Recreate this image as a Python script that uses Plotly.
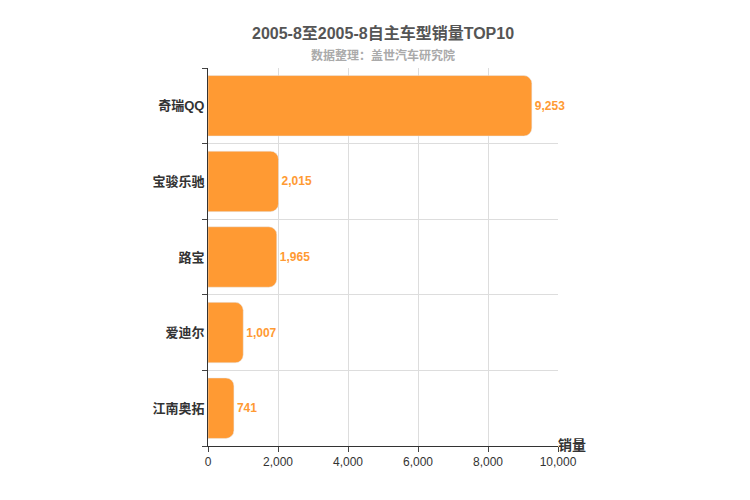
import plotly.graph_objects as go

categories = ["奇瑞QQ", "宝骏乐驰", "路宝", "爱迪尔", "江南奥拓"]
sales = [9253, 2015, 1965, 1007, 741]
x_ticks = [0, 2000, 4000, 6000, 8000, 10000]
x_tick_labels = ["0", "2,000", "4,000", "6,000", "8,000", "10,000"]

font = "Liberation Sans, Noto Sans CJK SC"
fig = go.Figure(go.Bar(
    x=sales, y=categories, orientation="h",
    marker=dict(color="#ff9a33", cornerradius=8),
    width=0.8,
    text=[f"<b>{v:,}</b>" for v in sales], textposition="outside",
    textfont=dict(color="#ff9a33", size=12, family=font),
    cliponaxis=False,
))
H = 378
fig.update_layout(
    width=750, height=500,
    margin=dict(l=200, r=200, t=60, b=62, pad=0, autoexpand=False),
    plot_bgcolor="white", paper_bgcolor="white",
    showlegend=False,
    font=dict(family=font, color="#333"),
    annotations=[
        dict(text="<b>2005-8至2005-8自主车型销量TOP10</b>", x=0.5, y=(500 - 14 - 62) / H,
             xref="paper", yref="paper", showarrow=False, font=dict(size=16, color="#555")),
        dict(text="<b>数据整理：盖世汽车研究院</b>", x=0.5, y=(500 - 38 - 62) / H,
             xref="paper", yref="paper", showarrow=False, font=dict(size=12, color="#aaa")),
        dict(text="<b>销量</b>", x=(580 - 200) / 350, y=0, yshift=1, xref="paper", yref="paper",
             yanchor="middle", showarrow=False, font=dict(size=14, color="#333")),
    ],
)
fig.update_xaxes(range=[0, 10000], tickvals=x_ticks, ticktext=x_tick_labels,
                 showgrid=True, gridcolor="#ddd", zeroline=False,
                 showline=True, linecolor="#333", ticks="outside", ticklen=5,
                 tickfont=dict(size=12, color="#333"))
fig.update_yaxes(categoryorder="array", categoryarray=categories[::-1],
                 showgrid=True, gridcolor="#ddd", tickson="boundaries",
                 showline=True, linecolor="#333", ticks="outside", ticklen=5,
                 tickfont=dict(size=13, color="#333"), ticksuffix=" ",
                 tickprefix="<b>")
fig.update_yaxes(ticktext=[f"<b>{c}</b>" for c in categories[::-1]],
                 tickvals=categories[::-1], tickprefix="")
fig.write_html("out.html")
